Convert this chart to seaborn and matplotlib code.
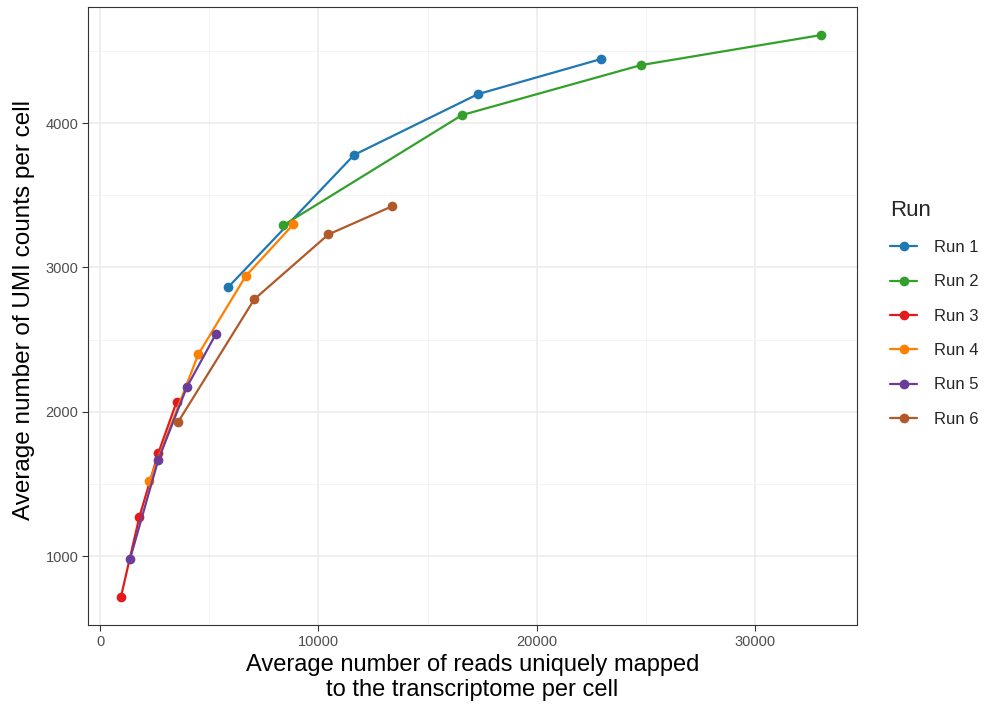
import matplotlib
matplotlib.use("Agg")
import matplotlib.pyplot as plt
from matplotlib.ticker import MultipleLocator
import pandas as pd
import seaborn as sns

# Saturation curves: mean reads per cell vs mean UMI counts per cell, one series per run
run1_reads = [5860, 11630, 17300, 22930]
run1_umi = [2862, 3779, 4200, 4443]
run2_reads = [8380, 16570, 24760, 33000]
run2_umi = [3291, 4055, 4401, 4609]
run3_reads = [950, 1800, 2670, 3510]
run3_umi = [714, 1272, 1715, 2071]
run4_reads = [2260, 4500, 6670, 8850]
run4_umi = [1521, 2399, 2940, 3298]
run5_reads = [1370, 2670, 3970, 5300]
run5_umi = [979, 1669, 2170, 2538]
run6_reads = [3560, 7060, 10450, 13380]
run6_umi = [1926, 2779, 3228, 3424]

run_names = ["Run 1", "Run 2", "Run 3", "Run 4", "Run 5", "Run 6"]
run_colors = ["#1f78b4", "#33a02c", "#e31a1c", "#ff7f00", "#6a3d9a", "#b15928"]

reads = [run1_reads, run2_reads, run3_reads, run4_reads, run5_reads, run6_reads]
umis = [run1_umi, run2_umi, run3_umi, run4_umi, run5_umi, run6_umi]

frames = []
for name, r, u in zip(run_names, reads, umis):
    frames.append(pd.DataFrame({"reads": r, "umi": u, "Run": name}))
df = pd.concat(frames, ignore_index=True)

sns.set_theme(style="white")
plt.rcParams["font.family"] = ["Liberation Sans", "DejaVu Sans"]

fig = plt.figure(figsize=(9.87, 7.08), dpi=100)
ax = fig.add_axes([0.0892, 0.117, 0.779, 0.873])

sns.lineplot(
    data=df, x="reads", y="umi", hue="Run", hue_order=run_names,
    palette=dict(zip(run_names, run_colors)),
    marker="o", markersize=7, markeredgewidth=0, linewidth=1.6,
    estimator=None, sort=False, ax=ax, legend=True,
)

ax.set_xlim(-550, 34650)
ax.set_ylim(522, 4803)
ax.xaxis.set_major_locator(MultipleLocator(10000))
ax.xaxis.set_minor_locator(MultipleLocator(5000))
ax.yaxis.set_major_locator(MultipleLocator(1000))
ax.yaxis.set_minor_locator(MultipleLocator(500))

ax.set_facecolor("white")
ax.grid(which="major", color="#ebebeb", linewidth=1.1)
ax.grid(which="minor", color="#f2f2f2", linewidth=0.6)
ax.set_axisbelow(True)
for s in ax.spines.values():
    s.set_color("#333333")
    s.set_linewidth(0.8)

ax.tick_params(axis="both", which="major", length=4, width=0.8, color="#333333",
               labelsize=10.5, labelcolor="#4d4d4d", direction="out",
               bottom=True, left=True, pad=3)
ax.tick_params(axis="both", which="minor", length=0)

ax.set_xlabel("Average number of reads uniquely mapped\nto the transcriptome per cell",
              fontsize=17, color="black", labelpad=4, linespacing=1.15)
ax.set_ylabel("Average number of UMI counts per cell", fontsize=17.5, color="black", labelpad=4)
ax.yaxis.set_label_coords(-0.069, 0.51)

handles, labels = ax.get_legend_handles_labels()
ax.legend(handles, labels, title="Run", loc="upper left",
          bbox_to_anchor=(0.887, 0.739), bbox_transform=fig.transFigure,
          frameon=False, fontsize=12, title_fontsize=16,
          handlelength=1.6, labelspacing=1.16, handletextpad=1.0,
          alignment="left")

fig.savefig("out.png", dpi=100)
